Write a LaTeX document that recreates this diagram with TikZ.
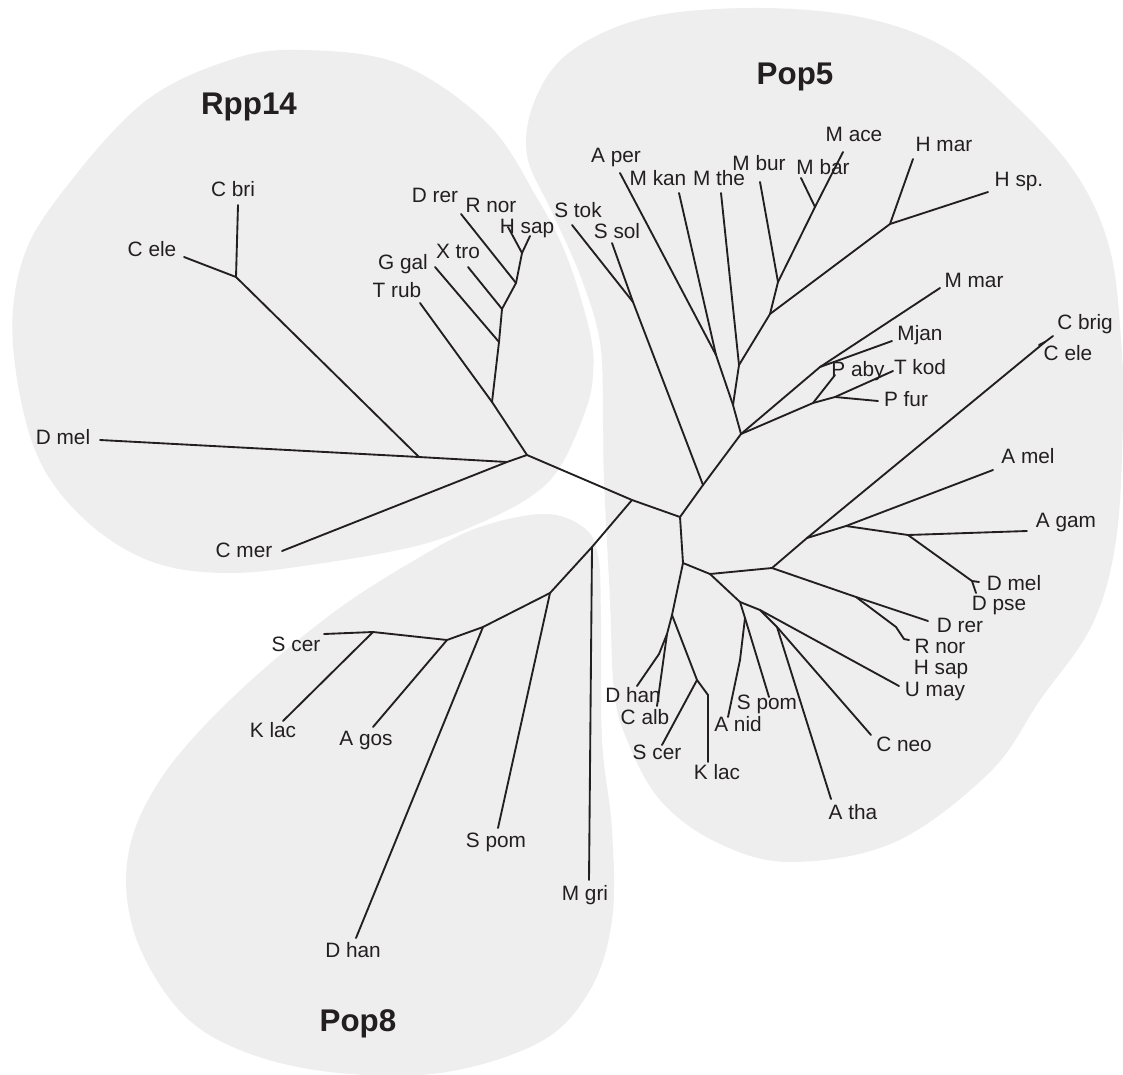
\documentclass[tikz,border=0pt]{standalone}
\usepackage{fontspec}
\setmainfont{Liberation Sans}
\definecolor{blobgray}{HTML}{EEEEEE}
\definecolor{ink}{HTML}{231F20}
\begin{document}
\begin{tikzpicture}[x=0.75pt,y=-0.75pt,
  br/.style={draw=ink, line width=1.4pt, line cap=round, line join=round},
  lab/.style={inner sep=0pt, text=ink, font=\fontsize{15.6}{18}\selectfont, text height=0.72em, text depth=0pt},
  big/.style={inner sep=0pt, text=ink, font=\fontsize{23.5}{28}\selectfont\bfseries, text height=0.72em, text depth=0pt},
  blob/.style={fill=blobgray, draw=none}]
\useasboundingbox (0,0) rectangle (1123,1074);
\fill[white] (0,0) rectangle (1123,1074);

% ---------- blobs ----------
\path[blob] plot[smooth cycle, tension=0.6] coordinates {
 (13,345) (22,262) (60,195) (143,103) (230,60) (301,50) (400,64) (487,123)
 (537,198) (567,257) (590,333) (593,375) (585,412) (560,467) (530,497)
 (480,523) (420,545) (330,562) (230,573) (150,561) (82,517) (35,450)};
\path[blob] plot[smooth cycle, tension=0.6] coordinates {
 (752,8) (860,17) (946,48) (1020,110) (1078,177) (1110,250) (1121,340)
 (1123,420) (1116,540) (1092,625) (1040,700) (990,772) (895,842) (790,862)
 (716,842) (660,800) (627,740) (614,690) (610,600) (604,480) (603,420)
 (600,342) (580,275) (552,212) (527,155) (535,100) (570,52) (645,18)};
\path[blob] plot[smooth cycle, tension=0.6] coordinates {
 (544,514) (583,527) (598,555) (601,620) (602,740) (612,830) (612,920)
 (590,990) (540,1042) (440,1073) (330,1072) (240,1050) (179,1010)
 (135,935) (128,856) (160,780) (230,700) (330,615) (420,557) (480,527)};

% ---------- group titles ----------
\node[big] (tRpp) at (249,110) {Rpp14};
\node[big] (tPop5) at (795,80) {Pop5};
\node[big] (tPop8) at (358,1027) {Pop8};

% ---------- Rpp14 coordinates ----------
\coordinate (R) at (527,455);
\coordinate (B) at (507,462);
\coordinate (A1) at (419,457);
\coordinate (DM) at (100,440);
\coordinate (CM) at (282,551);
\coordinate (CC) at (236,277);
\coordinate (CBr) at (238,205);
\coordinate (CEl) at (184,257);
\coordinate (C1) at (492,402);
\coordinate (TR) at (420,303);
\coordinate (C2) at (499,342);
\coordinate (GG) at (435,267);
\coordinate (C3) at (502,309);
\coordinate (XT) at (468,267);
\coordinate (C4) at (516,283);
\coordinate (RNl) at (461,214);
\coordinate (C5) at (522,253);
\coordinate (HS1) at (508,227);
\coordinate (HS2) at (530,236);

% ---------- Pop8 coordinates ----------
\coordinate (Q) at (632,500);
\coordinate (M1) at (592,547);
\coordinate (MG) at (589,880);
\coordinate (M2) at (550,593);
\coordinate (SPl) at (498,828);
\coordinate (M3) at (483,627);
\coordinate (DHl) at (356,938);
\coordinate (M4) at (447,640);
\coordinate (AGl) at (373,727);
\coordinate (M5) at (373,632);
\coordinate (SCl) at (324,634);
\coordinate (KLl) at (283,721);

% ---------- Pop5 coordinates (upper) ----------
\coordinate (P) at (680,517);
\coordinate (N1) at (703,485);
\coordinate (N2) at (633,302);
\coordinate (ST) at (572,225);
\coordinate (SS) at (612,243);
\coordinate (N3) at (741,434);
\coordinate (N4) at (733,405);
\coordinate (N9) at (716,355);
\coordinate (AP) at (620,173);
\coordinate (MK) at (679,193);
\coordinate (N8) at (739,365);
\coordinate (MT) at (721,193);
\coordinate (N10) at (770,314);
\coordinate (N11) at (778,282);
\coordinate (MB) at (760,182);
\coordinate (N13) at (815,207);
\coordinate (MBa) at (801,178);
\coordinate (MA) at (843,152);
\coordinate (N12) at (890,224);
\coordinate (HM) at (913,159);
\coordinate (HSp) at (988,192);
\coordinate (N5) at (820,367);
\coordinate (MJ) at (892,341);
\coordinate (MM) at (940,288);
\coordinate (N6) at (813,403);
\coordinate (PA) at (835,375);
\coordinate (N7) at (835,397);
\coordinate (TK) at (893,371);
\coordinate (PF) at (878,401);

% ---------- Pop5 coordinates (lower) ----------
\coordinate (L1) at (683,563);
\coordinate (L2) at (710,574);
\coordinate (L3) at (672,615);
\coordinate (L4) at (772,568);
\coordinate (K1) at (807,538);
\coordinate (K5) at (1045,342);
\coordinate (CBg) at (1053,336);
\coordinate (CEg) at (1039,345);
\coordinate (K2) at (846,526);
\coordinate (AM) at (993,470);
\coordinate (K3) at (908,535);
\coordinate (AGa) at (1027,531);
\coordinate (K4) at (972,581);
\coordinate (DMe) at (979,582);
\coordinate (DP) at (976,593);
\coordinate (J1) at (856,597);
\coordinate (DR) at (928,621);
\coordinate (RNa) at (896,627);
\coordinate (RNb) at (904,639);
\coordinate (RNc) at (909,640);
\coordinate (L5) at (740,602);
\coordinate (L6) at (745,618);
\coordinate (ANk) at (740,660);
\coordinate (AN) at (728,717);
\coordinate (SPo) at (769,697);
\coordinate (L7) at (760,610);
\coordinate (UM) at (899,686);
\coordinate (L8) at (777,627);
\coordinate (CN) at (871,735);
\coordinate (AT) at (831,799);
\coordinate (L9) at (667,634);
\coordinate (DHk) at (659,654);
\coordinate (DHa) at (637,686);
\coordinate (CA) at (657,706);
\coordinate (L10) at (697,680);
\coordinate (SCe) at (662,745);
\coordinate (KLk) at (708,695);
\coordinate (KLa) at (708,762);

% ---------- branches ----------
% Rpp14
\draw[br] (DM) -- (A1) -- (B) -- (R);
\draw[br] (CM) -- (B);
\draw[br] (A1) -- (CC);
\draw[br] (CC) -- (CBr);
\draw[br] (CC) -- (CEl);
\draw[br] (R) -- (C1) -- (C2) -- (C3) -- (C4) -- (C5);
\draw[br] (C1) -- (TR);
\draw[br] (C2) -- (GG);
\draw[br] (C3) -- (XT);
\draw[br] (C4) -- (RNl);
\draw[br] (C5) -- (HS1);
\draw[br] (C5) -- (HS2);
% centre
\draw[br] (R) -- (Q) -- (P);
% Pop8
\draw[br] (Q) -- (M1) -- (M2) -- (M3) -- (M4) -- (M5);
\draw[br] (M1) -- (MG);
\draw[br] (M2) -- (SPl);
\draw[br] (M3) -- (DHl);
\draw[br] (M4) -- (AGl);
\draw[br] (M5) -- (SCl);
\draw[br] (M5) -- (KLl);
% Pop5 upper
\draw[br] (P) -- (N1) -- (N3);
\draw[br] (N1) -- (N2);
\draw[br] (N2) -- (ST);
\draw[br] (N2) -- (SS);
\draw[br] (N3) -- (N4) -- (N9);
\draw[br] (N9) -- (AP);
\draw[br] (N9) -- (MK);
\draw[br] (N4) -- (N8) -- (MT);
\draw[br] (N8) -- (N10) -- (N11) -- (MB);
\draw[br] (N11) -- (N13) -- (MBa);
\draw[br] (N13) -- (MA);
\draw[br] (N10) -- (N12) -- (HM);
\draw[br] (N12) -- (HSp);
\draw[br] (N3) -- (N5) -- (MJ);
\draw[br] (N5) -- (MM);
\draw[br] (N3) -- (N6) -- (PA);
\draw[br] (N6) -- (N7) -- (TK);
\draw[br] (N7) -- (PF);
% Pop5 lower
\draw[br] (P) -- (L1) -- (L2) -- (L4) -- (K1) -- (K5) -- (CBg);
\draw[br] (K5) -- (CEg);
\draw[br] (K1) -- (K2) -- (AM);
\draw[br] (K2) -- (K3) -- (AGa);
\draw[br] (K3) -- (K4) -- (DMe);
\draw[br] (K4) -- (DP);
\draw[br] (L4) -- (J1) -- (DR);
\draw[br] (J1) -- (RNa) -- (RNb) -- (RNc);
\draw[br] (L2) -- (L5) -- (L6) -- (ANk) -- (AN);
\draw[br] (L6) -- (SPo);
\draw[br] (L5) -- (L7) -- (UM);
\draw[br] (L7) -- (L8) -- (CN);
\draw[br] (L8) -- (AT);
\draw[br] (L1) -- (L3) -- (L9) -- (DHk) -- (DHa);
\draw[br] (L9) -- (CA);
\draw[br] (L3) -- (L10) -- (SCe);
\draw[br] (L10) -- (KLk) -- (KLa);

% ---------- labels: Rpp14 ----------
\node[lab] (lCbri) at (233,192) {C bri};
\node[lab] (lCele) at (152,252) {C ele};
\node[lab] (lDmel) at (63,440) {D mel};
\node[lab] (lCmer) at (244,553) {C mer};
\node[lab] (lTrub) at (397,293) {T rub};
\node[lab] (lGgal) at (403,265) {G gal};
\node[lab] (lXtro) at (458,254) {X tro};
\node[lab] (lDrer) at (435,198) {D rer};
\node[lab] (lRnor) at (491,208) {R nor};
\node[lab] (lHsap) at (527,229) {H sap};
% ---------- labels: Pop8 ----------
\node[lab] (lMgri) at (585,896) {M gri};
\node[lab] (lSpom) at (496,843) {S pom};
\node[lab] (lDhan) at (353,953) {D han};
\node[lab] (lAgos) at (366,741) {A gos};
\node[lab] (lScer) at (296,647) {S cer};
\node[lab] (lKlac) at (273,733) {K lac};
% ---------- labels: Pop5 upper ----------
\node[lab] (lAper) at (616,158) {A per};
\node[lab] (lMkan) at (658,181) {M kan};
\node[lab] (lMthe) at (719,181) {M the};
\node[lab] (lMbur) at (759,166) {M bur};
\node[lab] (lMbar) at (823,170) {M bar};
\node[lab] (lMace) at (854,137) {M ace};
\node[lab] (lHmar) at (944,147) {H mar};
\node[lab] (lHsp) at (1019,182) {H sp.};
\node[lab] (lStok) at (578,213) {S tok};
\node[lab] (lSsol) at (617,234) {S sol};
\node[lab] (lMmar) at (974,283) {M mar};
\node[lab] (lMjan) at (920,336) {Mjan};
\node[lab] (lPaby) at (858,372) {P aby};
\node[lab] (lTkod) at (920,370) {T kod};
\node[lab] (lPfur) at (906,402) {P fur};
% ---------- labels: Pop5 lower ----------
\node[lab] (lCbrig) at (1085,325) {C brig};
\node[lab] (lCele2) at (1068,356) {C ele};
\node[lab] (lAmel) at (1028,459) {A mel};
\node[lab] (lAgam) at (1066,523) {A gam};
\node[lab] (lDmel2) at (1014,586) {D mel};
\node[lab] (lDpse) at (999,606) {D pse};
\node[lab] (lDrer2) at (960,628) {D rer};
\node[lab] (lRnor2) at (940,649) {R nor};
\node[lab] (lHsap2) at (941,670) {H sap};
\node[lab] (lUmay) at (935,692) {U may};
\node[lab] (lCneo) at (904,747) {C neo};
\node[lab] (lAtha) at (853,815) {A tha};
\node[lab] (lSpom2) at (767,705) {S pom};
\node[lab] (lAnid) at (738,727) {A nid};
\node[lab] (lDhan2) at (633,698) {D han};
\node[lab] (lCalb) at (645,720) {C alb};
\node[lab] (lScer2) at (657,755) {S cer};
\node[lab] (lKlac2) at (717,775) {K lac};
\end{tikzpicture}
\end{document}
